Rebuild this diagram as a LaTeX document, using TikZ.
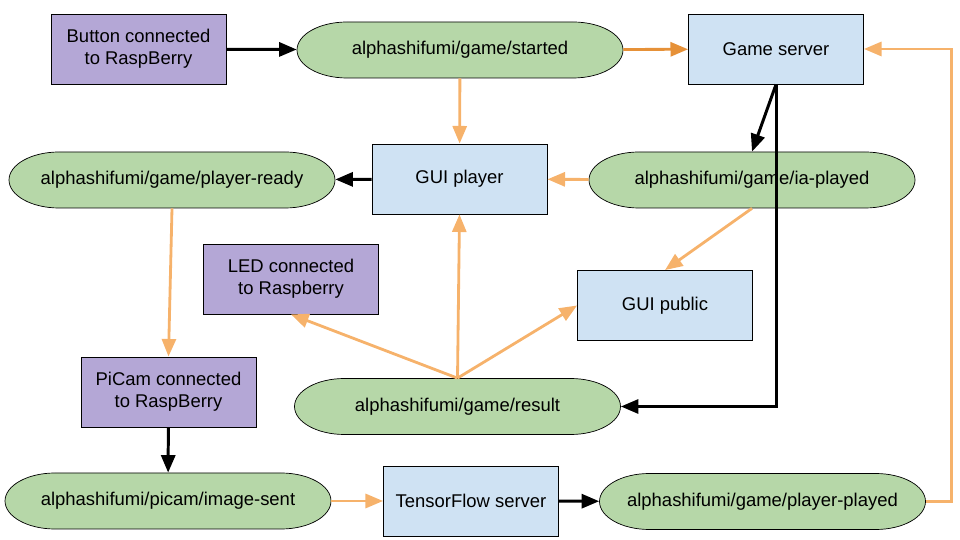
\documentclass[tikz,border=0pt]{standalone}
\usepackage{fontspec}
\setmainfont{Liberation Sans}
\usetikzlibrary{arrows.meta}
\definecolor{topicgreen}{HTML}{B6D7A8}
\definecolor{devpurple}{HTML}{B4A7D6}
\definecolor{appblue}{HTML}{CFE2F3}
\definecolor{msglight}{HTML}{F6B26B}
\definecolor{msgdark}{HTML}{E69138}

% mqtt topic: flat top and bottom, elliptic ends
\newcommand{\mqtttopic}[3]{%
  \filldraw[fill=topicgreen, draw=black, line width=0.4pt, shift={(#2)}]
    (-2.26,0.56) -- (2.26,0.56)
    arc[start angle=90, end angle=-90, x radius=1, y radius=0.56]
    -- (-2.26,-0.56)
    arc[start angle=270, end angle=90, x radius=1, y radius=0.56] -- cycle;
  \node[topic] (#1) at (#2) {#3};
}

\begin{document}
\begin{tikzpicture}[>={Triangle[length=10pt,width=8pt]},
  box/.style={draw, line width=0.5pt, minimum width=3.5cm, minimum height=1.4cm, align=center},
  device/.style={box, fill=devpurple},
  app/.style={box, fill=appblue},
  topic/.style={minimum width=6.52cm, minimum height=1.12cm, inner sep=0pt},
  blk/.style={->, line width=1.7pt},
  org/.style={->, line width=1.6pt, color=msglight},
  font=\fontsize{10.5}{12.5}\selectfont]
  \useasboundingbox (0,0) rectangle (19.2,10.8);
  % devices on the raspberry
  \node[device] (button) at (2.77,9.82) {Button connected\\to RaspBerry};
  \node[device] (led) at (5.82,5.22) {LED connected\\to Raspberry};
  \node[device] (picam) at (3.37,2.96) {PiCam connected\\to RaspBerry};
  % applications
  \node[app] (server) at (15.52,9.82) {Game server};
  \node[app] (guiplayer) at (9.19,7.22) {GUI player};
  \node[app] (guipublic) at (13.30,4.69) {GUI public};
  \node[app] (tensor) at (9.42,0.78) {TensorFlow server};
  % topics
  \mqtttopic{started}{9.20,9.80}{alphashifumi/game/started}
  \mqtttopic{ready}{3.44,7.20}{alphashifumi/game/player-ready}
  \mqtttopic{iaplayed}{15.04,7.20}{alphashifumi/game/ia-played}
  \mqtttopic{result}{9.15,2.67}{alphashifumi/game/result}
  \mqtttopic{image}{3.36,0.78}{alphashifumi/picam/image-sent}
  \mqtttopic{played}{15.25,0.77}{alphashifumi/game/player-played}
  % publish (black)
  \draw[blk] (button) -- (started);
  \draw[blk] (server.south) -- (iaplayed.north);
  \draw[blk] (server.south) |- (result.east);
  \draw[blk] (guiplayer) -- (ready);
  \draw[blk] (picam) -- (image);
  \draw[blk] (tensor) -- (played);
  % subscribe (orange)
  \draw[->, line width=1.6pt, color=msgdark] (started) -- (server);
  \draw[org] (started) -- (guiplayer);
  \draw[org] (iaplayed) -- (guiplayer);
  \draw[org] (iaplayed.south) -- (guipublic.north);
  \draw[org] (ready.south) -- (picam.north);
  \draw[org] (result.north) -- (guiplayer.south);
  \draw[org] (result.north) -- (led.south);
  \draw[org] (result.north) -- (guipublic.west);
  \draw[org] (image) -- (tensor);
  \draw[org] (played.east) -- ++(0.52,0) |- (server.east);
\end{tikzpicture}
\end{document}
